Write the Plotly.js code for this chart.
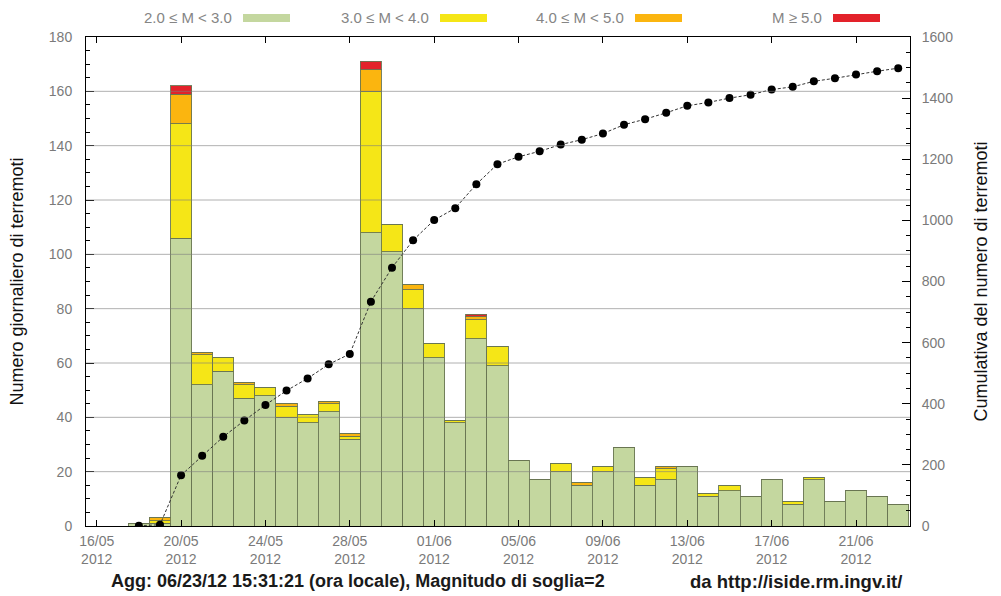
<!DOCTYPE html>
<html>
<head>
<meta charset="utf-8">
<script src="https://cdn.plot.ly/plotly-3.0.1.min.js"></script>
<style>html,body{margin:0;padding:0;background:#fff;}#chart{width:1001px;height:596px;}</style>
</head>
<body>
<div id="chart"></div>
<script>
// ---- data ----
const days = ['2012-05-18','2012-05-19','2012-05-20','2012-05-21','2012-05-22','2012-05-23','2012-05-24','2012-05-25','2012-05-26','2012-05-27','2012-05-28','2012-05-29','2012-05-30','2012-05-31','2012-06-01','2012-06-02','2012-06-03','2012-06-04','2012-06-05','2012-06-06','2012-06-07','2012-06-08','2012-06-09','2012-06-10','2012-06-11','2012-06-12','2012-06-13','2012-06-14','2012-06-15','2012-06-16','2012-06-17','2012-06-18','2012-06-19','2012-06-20','2012-06-21','2012-06-22','2012-06-23'];
const mag2to3 = [1,1,106,52,57,47,48,40,38,42,32,108,101,80,62,38,69,59,24,17,20,15,20,29,15,17,22,11,13,11,17,8,17,9,13,11,8];
const mag3to4 = [0,1,42,11,5,5,3,4,3,3,1,52,10,7,5,1,7,7,0,0,3,0,2,0,3,4,0,1,2,0,0,1,1,0,0,0,0];
const mag4to5 = [0,1,11,1,0,1,0,1,0,1,1,8,0,2,0,0,1,0,0,0,0,1,0,0,0,1,0,0,0,0,0,0,0,0,0,0,0];
const mag5up  = [0,0,3,0,0,0,0,0,0,0,0,3,0,0,0,0,1,0,0,0,0,0,0,0,0,0,0,0,0,0,0,0,0,0,0,0,0];
const cumulative = [1,4,166,230,292,345,396,443,483,529,563,734,845,935,1001,1040,1118,1184,1208,1226,1248,1264,1284,1313,1331,1352,1375,1386,1400,1411,1428,1437,1455,1465,1477,1488,1498];
const legendLabels = ['2.0 \u2264 M < 3.0','3.0 \u2264 M < 4.0','4.0 \u2264 M < 5.0','M \u2265 5.0'];
const gridValues = [20,40,60,80,100,120,140,160];

// ---- styling / layout ----
const colors = ['#c4d79f','#f5e617','#fbb50f','#e3222a'];
const font = 'Liberation Sans, Arial, sans-serif';
const L=86, R=910, T=37, B=526;
const px = x => (x-L)/(R-L);
const py = y => (B-y)/(B-T);

const series = [mag2to3, mag3to4, mag4to5, mag5up];
const traces = series.map((vals,i) => ({
  type:'bar', x: days, y: vals, name: legendLabels[i], showlegend:false,
  marker:{color: colors[i], line:{color:'rgba(105,118,82,0.9)', width:1}},
  hoverinfo:'x+y'
}));
traces.push({
  type:'scatter', mode:'lines+markers', x: days, y: cumulative, yaxis:'y2',
  name:'Cumulativa', showlegend:false,
  line:{color:'#333', width:1, dash:'3px,2px'},
  marker:{color:'#000', size:8}
});

// legend built as text + swatch (text precedes swatch as in the reference)
const legendSwatchX = [243, 440, 635, 833];
const swatchW = 47;
const annotations = [];
const shapes = [];
legendLabels.forEach((lab,i) => {
  annotations.push({xref:'paper', yref:'paper', x: px(legendSwatchX[i]-9), y: py(18),
    xanchor:'right', yanchor:'middle', text: lab, showarrow:false,
    font:{family:font, size:15, color:'#858585'}});
  shapes.push({type:'rect', xref:'paper', yref:'paper', x0: px(legendSwatchX[i]), x1: px(legendSwatchX[i]+swatchW),
    y0: py(22), y1: py(14), fillcolor: colors[i], line:{width:0}});
});
gridValues.forEach(v => shapes.push({type:'line', xref:'paper', x0:0, x1:1, yref:'y', y0:v, y1:v,
  layer:'above', line:{color:'rgba(125,125,125,0.6)', width:1}}));

annotations.push({xref:'paper', yref:'paper', x: px(358), y: py(581), xanchor:'center', yanchor:'middle',
  text:'Agg: 06/23/12 15:31:21 (ora locale), Magnitudo di soglia=2', showarrow:false,
  font:{family:font, size:18, color:'#1a1a1a', weight:'bold'}});
annotations.push({xref:'paper', yref:'paper', x: px(796), y: py(581), xanchor:'center', yanchor:'middle',
  text:'da http://iside.rm.ingv.it/', showarrow:false,
  font:{family:font, size:18.5, color:'#1a1a1a', weight:'bold'}});

const tickFont = {family:font, size:14, color:'#7a7a7a'};
const layout = {
  width:1001, height:596,
  margin:{l:L, r:1001-R, t:T, b:596-B},
  paper_bgcolor:'#fff', plot_bgcolor:'#fff',
  barmode:'stack', bargap:0,
  font:{family:font},
  xaxis:{type:'date', range:['2012-05-15 11:50','2012-06-23 13:25'],
    tick0:'2012-05-16', dtick:4*86400000, tickformat:'%d/%m<br>%Y',
    ticks:'inside', ticklen:6, tickcolor:'#000', showline:true, linecolor:'#000', linewidth:1,
    mirror:'ticks', showgrid:false, zeroline:false, tickfont:tickFont, ticklabelstandoff:2},
  yaxis:{range:[0,180], dtick:20, ticks:'inside', ticklen:8, tickcolor:'#000',
    minor:{dtick:5, ticks:'inside', ticklen:4, tickcolor:'#000'},
    showline:true, linecolor:'#000', linewidth:1, showgrid:false, zeroline:false,
    tickfont:tickFont, ticklabelstandoff:10,
    title:{text:'Numero giornaliero di terremoti', font:{family:font, size:18, color:'#111'}, standoff:20}},
  yaxis2:{overlaying:'y', side:'right', range:[0,1600], dtick:200, ticks:'inside', ticklen:8, tickcolor:'#000',
    minor:{dtick:50, ticks:'inside', ticklen:4, tickcolor:'#000'},
    showline:true, linecolor:'#000', linewidth:1, showgrid:false, zeroline:false,
    tickfont:tickFont, ticklabelstandoff:8,
    title:{text:'Cumulativa del numero di terremoti', font:{family:font, size:18, color:'#111'}, standoff:22}},
  annotations: annotations,
  shapes: shapes
};
Plotly.newPlot('chart', traces, layout, {displayModeBar:false, staticPlot:true});
</script>
</body>
</html>
